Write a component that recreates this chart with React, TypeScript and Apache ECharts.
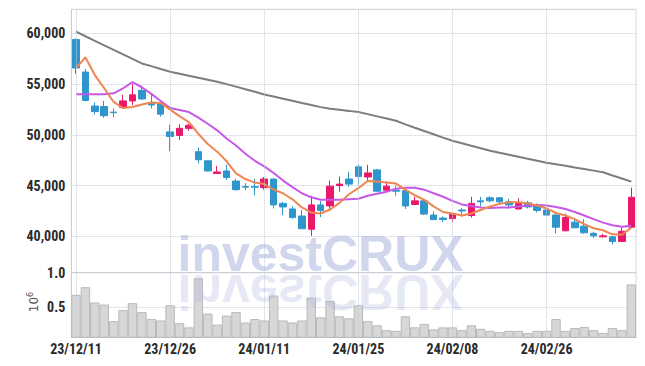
import React, { useEffect, useRef } from "react";
import * as echarts from "echarts";

const dates = [
  "23/12/11", "23/12/12", "23/12/13", "23/12/14", "23/12/15", "23/12/18", "23/12/19", "23/12/20", "23/12/21", "23/12/22",
  "23/12/26", "23/12/27", "23/12/28", "24/01/02", "24/01/03", "24/01/04", "24/01/05", "24/01/08", "24/01/09", "24/01/10",
  "24/01/11", "24/01/12", "24/01/15", "24/01/16", "24/01/17", "24/01/18", "24/01/19", "24/01/22", "24/01/23", "24/01/24",
  "24/01/25", "24/01/26", "24/01/29", "24/01/30", "24/01/31", "24/02/01", "24/02/02", "24/02/05", "24/02/06", "24/02/07",
  "24/02/08", "24/02/13", "24/02/14", "24/02/15", "24/02/16", "24/02/19", "24/02/20", "24/02/21", "24/02/22", "24/02/23",
  "24/02/26", "24/02/27", "24/02/28", "24/02/29", "24/03/04", "24/03/05", "24/03/06", "24/03/07", "24/03/08", "24/03/11",
];

const opens = [
  59400, 56200, 52850, 52800, 52250, 52700, 53350, 54400, 53200, 53050,
  50300, 49950, 50650, 48350, 47450, 46200, 46450, 45450, 44900, 44900,
  44800, 45650, 43250, 42700, 42000, 40700, 43100, 43000, 45000, 45650,
  46850, 45850, 46550, 44550, 44550, 44500, 43150, 43500, 42100, 41800,
  41750, 42600, 42050, 43500, 43800, 43800, 43400, 42700, 43300, 43100,
  42600, 42100, 40550, 41400, 41000, 40300, 39950, 39950, 39500, 40900,
];
const closes = [
  56600, 53400, 52300, 51900, 52200, 53350, 53950, 53550, 52950, 52050,
  49850, 50650, 50950, 47550, 46450, 46350, 45800, 44600, 44850, 44850,
  45650, 43100, 42900, 41850, 40750, 43100, 42550, 44950, 45150, 45150,
  45900, 46250, 44450, 44950, 44450, 43000, 43500, 42200, 41650, 41650,
  42250, 42500, 43250, 43400, 43500, 43400, 43100, 43250, 42900, 42550,
  42100, 40900, 41850, 40850, 40350, 40050, 40050, 39500, 40500, 43850,
];
const lows = [
  56000, 53300, 52000, 51700, 51750, 52600, 52950, 53450, 52600, 51800,
  48400, 49500, 50400, 47200, 46400, 46200, 45550, 44500, 44550, 44050,
  44600, 42750, 42100, 41750, 40750, 40050, 41900, 42600, 44400, 44900,
  45050, 45400, 44400, 44400, 44000, 42700, 43100, 42100, 41600, 41400,
  41400, 41950, 41850, 42950, 43350, 43100, 42750, 42650, 42750, 42350,
  42050, 40300, 40500, 40800, 40250, 39850, 39900, 39200, 39450, 40850,
];
const highs = [
  59500, 56500, 53200, 53350, 52600, 53950, 55000, 54850, 53950, 53100,
  51000, 51050, 51100, 48750, 47450, 46950, 47050, 45650, 45250, 45650,
  45850, 45700, 43400, 42950, 42600, 44000, 43500, 45500, 45900, 46350,
  47100, 47050, 46650, 45400, 45000, 44550, 43900, 43550, 42450, 41950,
  42350, 42800, 43900, 43900, 43950, 43850, 43700, 43750, 43500, 43250,
  42800, 42250, 42250, 41800, 41700, 40450, 40250, 40050, 40900, 44800,
];

const maShort = [
  56600, 57650, 55900, 54600, 53250, 52650, 52750, 53000, 53200, 53150,
  52500, 51850, 51250, 50100, 49100, 48350, 47400, 46200, 45650, 45300,
  45150, 44600, 44250, 43650, 42850, 42350, 42250, 42650, 43300, 44150,
  44750, 45450, 45400, 45300, 45200, 44600, 44050, 43600, 42950, 42400,
  42250, 42050, 42250, 42600, 42950, 43200, 43350, 43350, 43250, 43050,
  42750, 42300, 42050, 41700, 41200, 40800, 40600, 40200, 40150, 40850,
];
const maMid = [
  54000, 54000, 54000, 54000, 54100, 54600, 55200, 54700, 54050, 53350,
  52650, 52450, 52250, 51700, 51100, 50450, 49650, 48950, 48150, 47450,
  46900, 46250, 45500, 44850, 44250, 43850, 43600, 43600, 43600, 43650,
  43700, 44000, 44200, 44400, 44700, 44800, 44800, 44600, 44250, 43900,
  43500, 43150, 43000, 42850, 42800, 42850, 42850, 42950, 43050, 43100,
  43050, 42900, 42700, 42400, 42050, 41700, 41350, 41100, 40950, 41050,
];
const maLong = [
  60180, 59730, 59280, 58830, 58390, 57940, 57500, 57050, 56780, 56500,
  56230, 56030, 55830, 55640, 55440, 55250, 55010, 54760, 54500, 54250,
  53990, 53780, 53570, 53360, 53150, 52950, 52740, 52590, 52480, 52370,
  52250, 52050, 51830, 51620, 51400, 51040, 50710, 50390, 50060, 49730,
  49430, 49180, 48930, 48690, 48440, 48240, 48050, 47850, 47650, 47460,
  47260, 47110, 46950, 46790, 46640, 46480, 46320, 46000, 45700, 45390,
];

// volume in millions of shares
const volumes = [
  0.68, 0.79, 0.57, 0.54, 0.30, 0.46, 0.56, 0.43, 0.33, 0.31,
  0.53, 0.27, 0.21, 0.92, 0.41, 0.25, 0.38, 0.43, 0.28, 0.33,
  0.31, 0.67, 0.31, 0.28, 0.31, 0.64, 0.355, 0.59, 0.37, 0.34,
  0.53, 0.30, 0.24, 0.17, 0.16, 0.37, 0.21, 0.26, 0.18, 0.21,
  0.21, 0.17, 0.24, 0.19, 0.16, 0.14, 0.16, 0.16, 0.13, 0.16,
  0.16, 0.33, 0.16, 0.20, 0.215, 0.17, 0.13, 0.20, 0.17, 0.83,
];

// categories that carry a label and a vertical grid line
const labelledDates = ["23/12/11", "23/12/26", "24/01/11", "24/01/25", "24/02/08", "24/02/26"];

const volumeBase = "10";
const volumeExp = "6";
const watermark = "investCRUX";

const UP = "#E8196B";
const DOWN = "#2E96CC";
const LABEL_FONT = "'Liberation Sans Narrow', 'Roboto Condensed', 'DejaVu Sans Condensed', sans-serif";
const GRID_LINE = "#c6cadd";
const WM = "176,186,224";

export default function App() {
  const ref = useRef<HTMLDivElement>(null);

  useEffect(() => {
    if (!ref.current) return;
    const chart = echarts.init(ref.current, undefined, { renderer: "svg" });
    const candleData = dates.map((_, i) => [opens[i], closes[i], lows[i], highs[i]]);

    const labelStyle = {
      fontFamily: LABEL_FONT,
      fontSize: 14,
      fontWeight: "bold" as const,
      color: "#2a2a2a",
    };

    const vLines = {
      silent: true,
      symbol: "none",
      label: { show: false },
      lineStyle: { color: GRID_LINE, type: "dotted" as const, width: 1 },
      data: labelledDates.map((d) => ({ xAxis: d })),
    };

    chart.setOption({
      animation: false,
      backgroundColor: "#ffffff",
      grid: [
        { left: 71.3, right: 9, top: 9.3, height: 263.4, show: true, borderColor: "#d9d9d9", borderWidth: 1 },
        { left: 71.3, right: 9, top: 272.7, height: 64.6, show: true, borderColor: "#d9d9d9", borderWidth: 1 },
      ],
      xAxis: [
        {
          type: "category",
          gridIndex: 0,
          data: dates,
          boundaryGap: true,
          axisLine: { show: false },
          axisTick: { show: false },
          axisLabel: { show: false },
          splitLine: { show: false },
        },
        {
          type: "category",
          gridIndex: 1,
          data: dates,
          boundaryGap: true,
          axisLine: { show: true, lineStyle: { color: "#bdbdbd" } },
          axisTick: { show: false },
          axisLabel: { ...labelStyle, interval: 9, margin: 5 },
          splitLine: { show: false },
        },
      ],
      yAxis: [
        {
          type: "value",
          gridIndex: 0,
          min: 36415,
          max: 62386,
          splitNumber: 5,
          axisLine: { show: true, lineStyle: { color: "#cfcfcf" } },
          axisTick: { show: false },
          axisLabel: { ...labelStyle, margin: 6, showMinLabel: false, showMaxLabel: false },
          splitLine: { show: true, lineStyle: { color: GRID_LINE, type: "dotted", width: 1 } },
        },
        {
          type: "value",
          gridIndex: 1,
          min: 0.0665,
          max: 1.0,
          splitNumber: 2,
          axisLine: { show: true, lineStyle: { color: "#cfcfcf" } },
          axisTick: { show: false },
          axisLabel: {
            ...labelStyle,
            margin: 6,
            showMinLabel: false,
            formatter: (v: number) => v.toFixed(1),
          },
          splitLine: { show: true, lineStyle: { color: GRID_LINE, type: "dotted", width: 1 } },
        },
      ],
      graphic: [
        {
          type: "text",
          x: 33,
          y: 302,
          rotation: Math.PI / 2,
          style: {
            text: `{b|${volumeBase}}{e|${volumeExp}}`,
            align: "center",
            verticalAlign: "middle",
            rich: {
              b: { fontFamily: "DejaVu Sans", fontSize: 12, fill: "#555555", lineHeight: 14, verticalAlign: "bottom" },
              e: { fontFamily: "DejaVu Sans", fontSize: 8, fill: "#555555", lineHeight: 14, verticalAlign: "top" },
            },
          },
          z: 100,
        },
        {
          type: "text",
          x: 177.5,
          y: 254.4,
          style: {
            text: watermark,
            fontFamily: "Liberation Sans",
            fontWeight: "bold",
            fontSize: 50,
            fill: `rgba(${WM},0.6)`,
            align: "left",
            verticalAlign: "middle",
          },
          z: 100,
          silent: true,
        },
        {
          type: "text",
          x: 177.5,
          y: 275,
          scaleY: -1,
          style: {
            text: watermark,
            x: 0,
            y: -17.3,
            fontFamily: "Liberation Sans",
            fontWeight: "bold",
            fontSize: 50,
            fill: `rgba(${WM},0.33)`,
            align: "left",
            verticalAlign: "middle",
          },
          z: 100,
          silent: true,
        },
      ],
      series: [
        {
          type: "candlestick",
          xAxisIndex: 0,
          yAxisIndex: 0,
          data: candleData,
          barWidth: 7,
          itemStyle: {
            color: UP,
            color0: DOWN,
            borderColor: UP,
            borderColor0: DOWN,
            borderWidth: 1,
          },
          markLine: vLines,
        },
        {
          type: "line",
          xAxisIndex: 0,
          yAxisIndex: 0,
          data: maLong,
          symbol: "none",
          lineStyle: { color: "#7d7d7d", width: 2 },
        },
        {
          type: "line",
          xAxisIndex: 0,
          yAxisIndex: 0,
          data: maMid,
          symbol: "none",
          lineStyle: { color: "#C757E6", width: 2 },
        },
        {
          type: "line",
          xAxisIndex: 0,
          yAxisIndex: 0,
          data: maShort,
          symbol: "none",
          lineStyle: { color: "#EF8650", width: 2 },
        },
        {
          type: "bar",
          xAxisIndex: 1,
          yAxisIndex: 1,
          data: volumes,
          barWidth: "100%",
          itemStyle: { color: "#d7d7d7", borderColor: "#b9b9b9", borderWidth: 1 },
          markLine: vLines,
        },
      ],
    });

    return () => chart.dispose();
  }, []);

  return (
    <div
      ref={ref}
      style={{ position: "fixed", left: 0, top: 0, width: 645, height: 366 }}
    />
  );
}
